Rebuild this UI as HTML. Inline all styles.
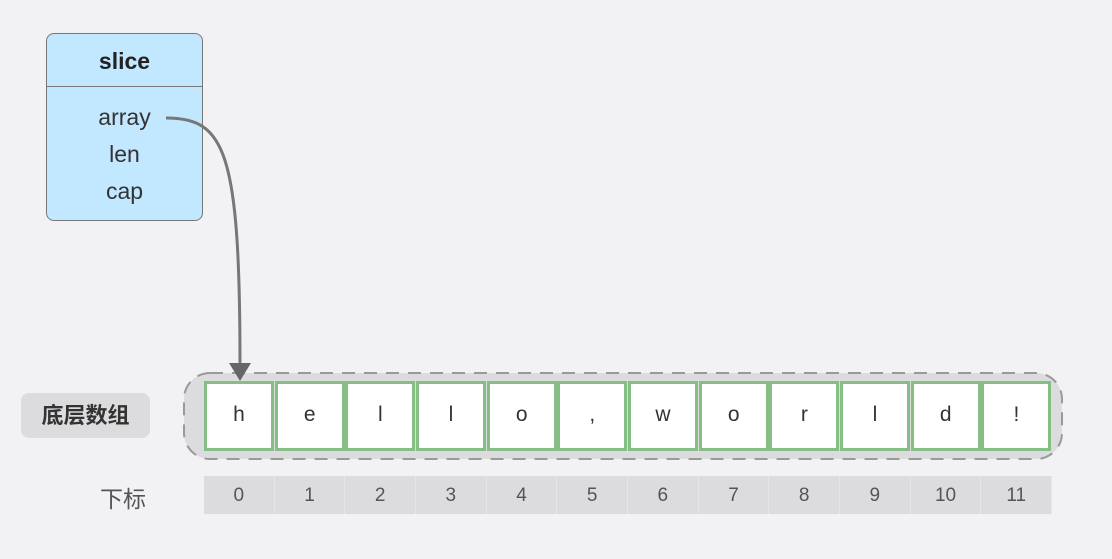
<!DOCTYPE html>
<html><head><meta charset="utf-8"><style>
body{margin:0;width:1112px;height:559px;background:#f2f2f5;overflow:hidden;font-family:"Liberation Sans","Noto Sans CJK SC",sans-serif;position:relative}
.abs{position:absolute}
#slice{left:46px;top:33px;width:155px;height:186px;border:1.5px solid #777;border-radius:8px;background:#c2e8ff}
#hdr{left:0;top:0;width:155px;height:52px;border-bottom:1.5px solid #777;text-align:center;line-height:54px;font-size:23px;color:#222;font-weight:600}
.fld{width:155px;text-align:center;font-size:23px;color:#333}
.cell{top:381px;width:64px;height:64px;border:3px solid #86bf86;background:#fff;text-align:center;line-height:62px;font-size:21px;color:#333}
.idx{top:476px;height:38px;background:#dcdcde;text-align:center;line-height:40px;font-size:19px;color:#555;border-right:1px solid #e6e6e8;box-sizing:border-box}
#lbl{left:21px;top:393px;width:129px;height:45px;border-radius:8px;background:#dcdcde;text-align:center;line-height:45px;font-size:22px;font-weight:bold;color:#333}
#sub{left:100px;top:480px;font-size:23px;color:#555}
</style></head><body>
<svg class="abs" style="left:0;top:0" width="1112" height="559">
<rect x="184" y="373" width="878" height="86" rx="26" fill="#dcdcde" stroke="#999" stroke-width="2" stroke-dasharray="13,9"/>
</svg>
<div id="slice" class="abs">
<div id="hdr" class="abs">slice</div>
<div class="abs fld" style="top:70px">array</div>
<div class="abs fld" style="top:107px">len</div>
<div class="abs fld" style="top:144px">cap</div>
</div>
<div id="lbl" class="abs">底层数组</div>
<div id="sub" class="abs">下标</div>
<svg class="abs" style="left:0;top:0" width="1112" height="559">
<path d="M166,118 C225,118 240,150 240,365" fill="none" stroke="#777" stroke-width="3"/>
<polygon points="229,363 251,363 240,381" fill="#666"/>
</svg>
<script>
const chars=['h','e','l','l','o',',','w','o','r','l','d','!'];
const indices=['0','1','2','3','4','5','6','7','8','9','10','11'];
const x0=204,pitch=70.67;
chars.forEach((c,i)=>{
 const d=document.createElement('div');d.className='abs cell';
 d.style.left=(x0+i*pitch)+'px';d.textContent=c;
 
 
 document.body.appendChild(d);
 const t=document.createElement('div');t.className='abs idx';
 t.style.left=(x0+i*pitch)+'px';t.style.width=pitch+'px';t.textContent=indices[i];
 
 
 document.body.appendChild(t);
});
</script>
</body></html>
